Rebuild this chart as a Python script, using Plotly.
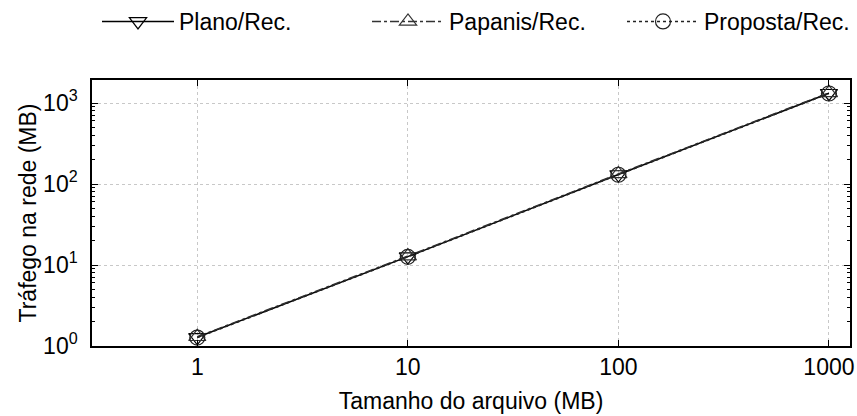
import plotly.graph_objects as go

# Data
sizes_mb = [1, 10, 100, 1000]
plano = [1.28, 12.7, 131, 1320]
papanis = [1.30, 12.9, 133, 1335]
proposta = [1.27, 12.6, 130, 1310]

x_tickvals = [1, 10, 100, 1000]
x_ticktext = ["1", "10", "100", "1000"]
y_tickvals = [1, 10, 100, 1000]
y_ticktext = ["10<sup>0</sup>", "10<sup>1</sup>", "10<sup>2</sup>", "10<sup>3</sup>"]

FONT = "Liberation Sans, Arial, Helvetica, sans-serif"
FS = 23

series = [
    ("Plano/Rec.", plano, "triangle-down-open", "solid", "#000000", "legend"),
    ("Papanis/Rec.", papanis, "triangle-up-open", "dashdot", "#333333", "legend2"),
    ("Proposta/Rec.", proposta, "circle-open", "dot", "#222222", "legend3"),
]

fig = go.Figure()
for name, vals, sym, dash, col, lg in series:
    fig.add_trace(go.Scatter(
        x=sizes_mb, y=vals, name=name, mode="lines+markers", legend=lg,
        showlegend=True,
        line=dict(color=col, width=1.5, dash=dash),
        marker=dict(symbol=sym, size=15, color=col, line=dict(width=1.2, color=col)),
    ))

axis_common = dict(
    type="log", showline=True, linecolor="black", linewidth=1.5, mirror="ticks",
    ticks="inside", ticklen=6, tickcolor="black", tickwidth=1,
    showgrid=True, gridcolor="#c8c8c8", griddash="dot", gridwidth=1,
    zeroline=False, tickfont=dict(family=FONT, size=FS, color="black"),
)

fig.update_xaxes(
    **axis_common, range=[-0.5, 3.1], tickmode="array",
    tickvals=x_tickvals, ticktext=x_ticktext, ticklabelstandoff=0,
    title=dict(text="Tamanho do arquivo (MB)", standoff=14,
               font=dict(family=FONT, size=FS, color="black")),
)
fig.update_yaxes(
    **axis_common, range=[0, 3.284], tickmode="array",
    tickvals=y_tickvals, ticktext=y_ticktext, ticklabelstandoff=8,
    title=dict(text="Tráfego na rede (MB)", standoff=0,
               font=dict(family=FONT, size=FS, color="black")),
    minor=dict(ticks="inside", ticklen=3, tickcolor="black", showgrid=False, dtick="D1"),
)

def legend_at(xpx):
    return dict(
        orientation="h", xref="container", yref="container",
        x=xpx / 857, y=1.0, xanchor="left", yanchor="top",
        itemwidth=72, font=dict(family=FONT, size=FS, color="black"),
        bgcolor="rgba(0,0,0,0)",
    )

fig.update_layout(
    width=857, height=416, showlegend=True,
    margin=dict(l=92, r=7, t=80, b=70, autoexpand=False),
    paper_bgcolor="white", plot_bgcolor="white",
    font=dict(family=FONT, size=FS, color="black"),
    legend=legend_at(97),
    legend2=legend_at(367),
    legend3=legend_at(622),
)

fig.write_html("out.html")
